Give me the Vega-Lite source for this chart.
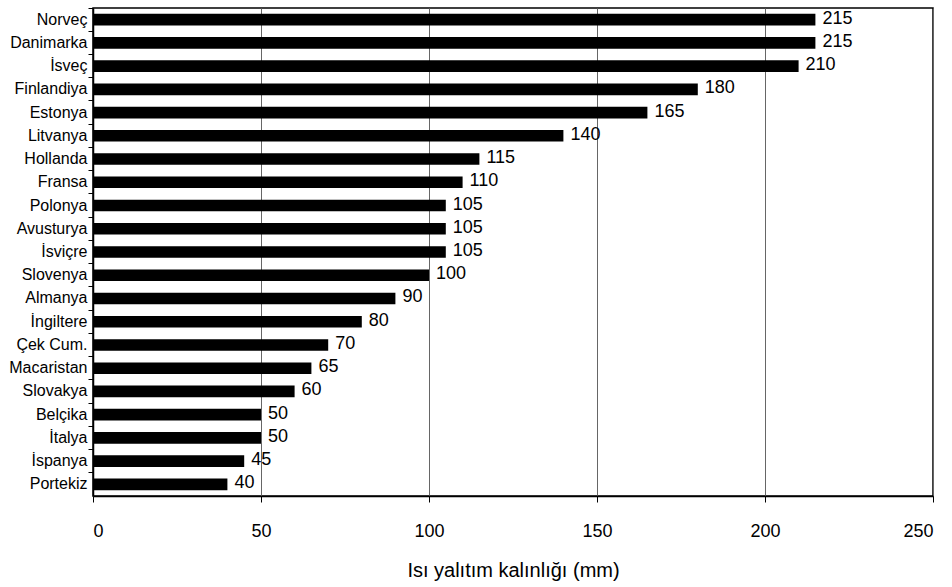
{
  "$schema": "https://vega.github.io/schema/vega-lite/v6.json",
  "width": 840,
  "height": 488,
  "autosize": {"type": "none"},
  "padding": {"left": 93, "top": 8, "right": 19, "bottom": 91},
  "background": "white",
  "config": {
    "font": "Liberation Sans",
    "view": {"stroke": "black", "strokeWidth": 1.5},
    "axis": {"labelColor": "black", "titleColor": "black", "titleFontWeight": "normal"}
  },
  "data": {
    "values": [
      {"ulke": "Norveç", "mm": 215},
      {"ulke": "Danimarka", "mm": 215},
      {"ulke": "İsveç", "mm": 210},
      {"ulke": "Finlandiya", "mm": 180},
      {"ulke": "Estonya", "mm": 165},
      {"ulke": "Litvanya", "mm": 140},
      {"ulke": "Hollanda", "mm": 115},
      {"ulke": "Fransa", "mm": 110},
      {"ulke": "Polonya", "mm": 105},
      {"ulke": "Avusturya", "mm": 105},
      {"ulke": "İsviçre", "mm": 105},
      {"ulke": "Slovenya", "mm": 100},
      {"ulke": "Almanya", "mm": 90},
      {"ulke": "İngiltere", "mm": 80},
      {"ulke": "Çek Cum.", "mm": 70},
      {"ulke": "Macaristan", "mm": 65},
      {"ulke": "Slovakya", "mm": 60},
      {"ulke": "Belçika", "mm": 50},
      {"ulke": "İtalya", "mm": 50},
      {"ulke": "İspanya", "mm": 45},
      {"ulke": "Portekiz", "mm": 40}
    ]
  },
  "encoding": {
    "y": {
      "field": "ulke",
      "type": "nominal",
      "sort": null,
      "scale": {"paddingInner": 0, "paddingOuter": 0},
      "axis": {
        "title": null,
        "bandPosition": 0,
        "labelFontSize": 16,
        "labelPadding": 1,
        "tickSize": 5,
        "tickColor": "black",
        "domainColor": "black",
        "domainWidth": 1.5,
        "grid": false
      }
    },
    "x": {
      "field": "mm",
      "type": "quantitative",
      "scale": {"domain": [0, 250], "nice": false},
      "axis": {
        "title": "Isı yalıtım kalınlığı (mm)",
        "values": [0, 50, 100, 150, 200, 250],
        "titleFontSize": 20,
        "titlePadding": 20,
        "labelFontSize": 18,
        "labelPadding": 20,
        "tickSize": 6,
        "tickColor": "black",
        "domainColor": "black",
        "domainWidth": 1.5,
        "grid": true,
        "gridColor": "#666666",
        "gridWidth": 1
      }
    }
  },
  "layer": [
    {
      "mark": {"type": "bar", "color": "black", "height": {"band": 0.5}}
    },
    {
      "mark": {
        "type": "text",
        "align": "left",
        "baseline": "middle",
        "dx": 7,
        "dy": -1,
        "fontSize": 18,
        "color": "black"
      },
      "encoding": {"text": {"field": "mm", "type": "quantitative"}}
    }
  ]
}
